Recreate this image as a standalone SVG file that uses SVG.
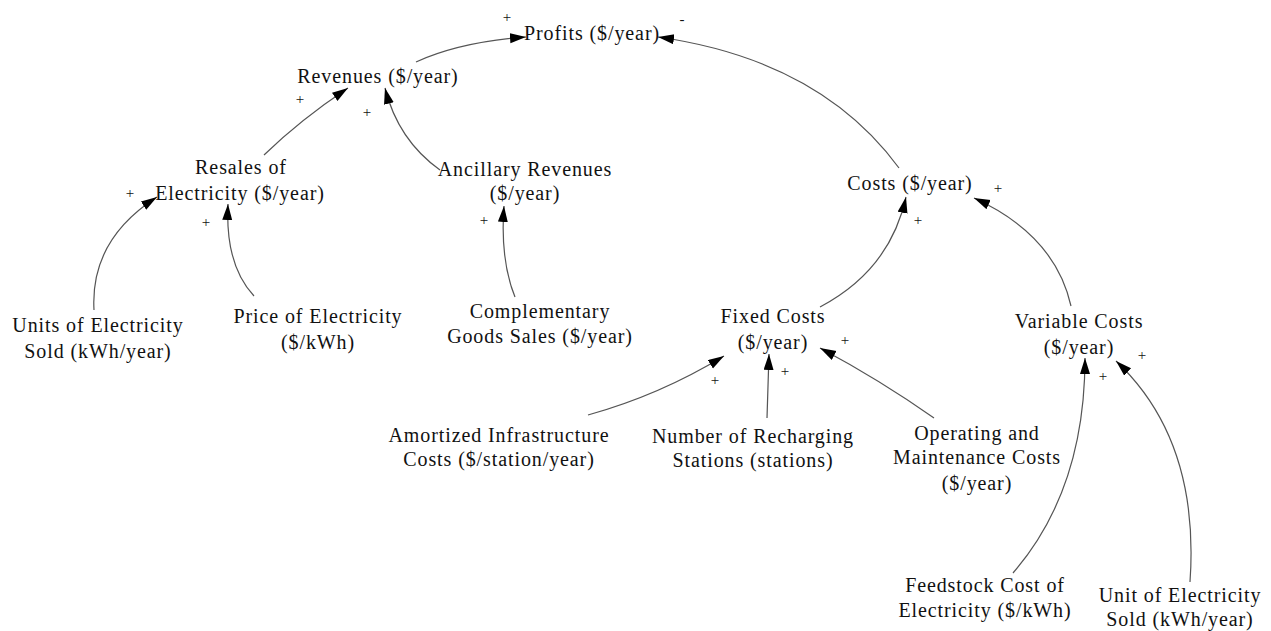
<svg xmlns="http://www.w3.org/2000/svg" width="1271" height="631" viewBox="0 0 1271 631">
<style>
text{font-family:"Liberation Serif","Times New Roman","DejaVu Serif",serif;font-size:20px;letter-spacing:0.9px;fill:#111;text-anchor:middle}
.s{font-size:15px;letter-spacing:0}
.c{fill:none;stroke:#555;stroke-width:1.2}
</style>
<defs>
<marker id="ah" markerUnits="userSpaceOnUse" markerWidth="18" markerHeight="12" refX="16" refY="5" orient="auto">
<path d="M0,0 L16,5 L0,10 z" fill="#000"/>
</marker>
</defs>
<rect width="1271" height="631" fill="#fff"/>
<g id="connectors">
<path class="c" marker-end="url(#ah)" d="M416 62 Q460 42 526 37"/>
<path class="c" marker-end="url(#ah)" d="M899 168 Q820 60 658 37"/>
<path class="c" marker-end="url(#ah)" d="M264 155 Q300 120 348 88"/>
<path class="c" marker-end="url(#ah)" d="M440 170 Q398 140 385 88"/>
<path class="c" marker-end="url(#ah)" d="M94 310 Q90 240 157 197"/>
<path class="c" marker-end="url(#ah)" d="M254 296 Q225 265 228 204"/>
<path class="c" marker-end="url(#ah)" d="M515 297 Q500 260 504 206"/>
<path class="c" marker-end="url(#ah)" d="M820 307 Q890 270 906 197"/>
<path class="c" marker-end="url(#ah)" d="M1071 306 Q1055 235 974 198"/>
<path class="c" marker-end="url(#ah)" d="M588 415 Q660 395 724 356"/>
<path class="c" marker-end="url(#ah)" d="M767 418 Q768 390 769 354"/>
<path class="c" marker-end="url(#ah)" d="M934 418 Q880 380 820 348"/>
<path class="c" marker-end="url(#ah)" d="M1013 573 Q1085 490 1085 358"/>
<path class="c" marker-end="url(#ah)" d="M1190 582 Q1200 440 1116 361"/>
</g>
<g id="polarity">
<text class="s" x="507" y="22">+</text>
<text class="s" x="682" y="24">-</text>
<text class="s" x="300" y="104">+</text>
<text class="s" x="367" y="117">+</text>
<text class="s" x="130" y="198">+</text>
<text class="s" x="206" y="227">+</text>
<text class="s" x="484" y="225">+</text>
<text class="s" x="918" y="225">+</text>
<text class="s" x="998" y="193">+</text>
<text class="s" x="715" y="385">+</text>
<text class="s" x="785" y="376">+</text>
<text class="s" x="845" y="345">+</text>
<text class="s" x="1103" y="381">+</text>
<text class="s" x="1142" y="360">+</text>
</g>
<g id="profits"><text x="592" y="40">Profits ($/year)</text></g>
<g id="revenues"><text x="378" y="83">Revenues ($/year)</text></g>
<g id="resales"><text x="241" y="174">Resales of</text><text x="240" y="200">Electricity ($/year)</text></g>
<g id="ancillary"><text x="525" y="176">Ancillary Revenues</text><text x="525" y="200">($/year)</text></g>
<g id="costs"><text x="910" y="190">Costs ($/year)</text></g>
<g id="units"><text x="98" y="332">Units of Electricity</text><text x="98" y="358">Sold (kWh/year)</text></g>
<g id="price"><text x="318" y="323">Price of Electricity</text><text x="318" y="349">($/kWh)</text></g>
<g id="complementary"><text x="540" y="318">Complementary</text><text x="540" y="343">Goods Sales ($/year)</text></g>
<g id="fixed"><text x="773" y="323">Fixed Costs</text><text x="773" y="349">($/year)</text></g>
<g id="variable"><text x="1079" y="328">Variable Costs</text><text x="1079" y="354">($/year)</text></g>
<g id="amortized"><text x="499" y="442">Amortized Infrastructure</text><text x="499" y="466">Costs ($/station/year)</text></g>
<g id="number"><text x="753" y="443">Number of Recharging</text><text x="753" y="467">Stations (stations)</text></g>
<g id="operating"><text x="977" y="440">Operating and</text><text x="977" y="464">Maintenance Costs</text><text x="977" y="490">($/year)</text></g>
<g id="feedstock"><text x="985" y="592">Feedstock Cost of</text><text x="985" y="617">Electricity ($/kWh)</text></g>
<g id="unit"><text x="1180" y="602">Unit of Electricity</text><text x="1180" y="626">Sold (kWh/year)</text></g>
</svg>
